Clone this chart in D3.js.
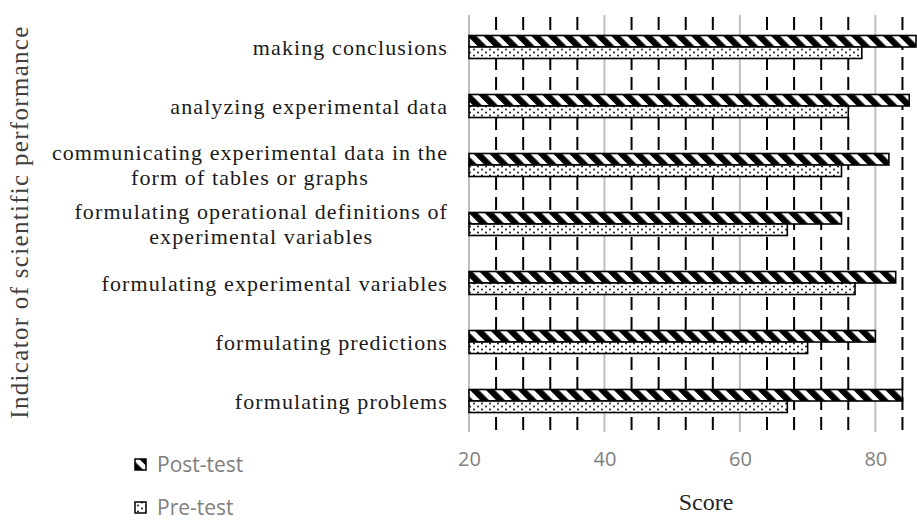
<!DOCTYPE html>
<html>
<head>
<meta charset="utf-8">
<title>Scientific performance</title>
<script src="https://cdn.jsdelivr.net/npm/d3@7/dist/d3.min.js"></script>
<style>
  body { margin: 0; background: #fff; }
  .cat { font-family: "Liberation Serif", "Times New Roman", serif; font-size: 22px; letter-spacing: 1.1px; fill: #1a1a1a; }
  .tick text { font-family: "Open Sans", sans-serif; font-size: 20px; fill: #808080; }
  .legend text { font-family: "Open Sans", sans-serif; font-size: 21px; fill: #808080; }
</style>
</head>
<body>
<svg id="chart" width="917" height="521"></svg>
<script>
// categories top -> bottom, label lines
var categories = [
  ["making conclusions"],
  ["analyzing experimental data"],
  ["communicating experimental data in the", "form of tables or graphs"],
  ["formulating operational definitions of", "experimental variables"],
  ["formulating experimental variables"],
  ["formulating predictions"],
  ["formulating problems"]
];
var postTest = [86, 85, 82, 75, 83, 80, 84];
var preTest  = [78, 76, 75, 67, 77, 70, 67];
var seriesNames = ["Post-test", "Pre-test"];
var majorTicks = [20, 40, 60, 80];
var minorTicks = [24, 28, 32, 36, 44, 48, 52, 56, 64, 68, 72, 76, 84];

var svg = d3.select("#chart");

var x = d3.scaleLinear().domain([20, 86]).range([469, 916]);
var y = d3.scaleBand()
    .domain(d3.range(categories.length))
    .range([17.5, 430.5])
    .paddingInner(0.61)
    .paddingOuter(0.305);
var ySub = d3.scaleBand().domain([0, 1]).range([0, y.bandwidth()]);

// patterns
var defs = svg.append("defs");
var stripe = defs.append("pattern")
    .attr("id", "stripes")
    .attr("patternUnits", "userSpaceOnUse")
    .attr("width", 11.3).attr("height", 11.3)
    .attr("patternTransform", "rotate(-45)");
stripe.append("rect").attr("width", 11.3).attr("height", 11.3).attr("fill", "#fff");
stripe.append("rect").attr("width", 6.3).attr("height", 11.3).attr("fill", "#000");

var dots = defs.append("pattern")
    .attr("id", "dots")
    .attr("patternUnits", "userSpaceOnUse")
    .attr("width", 8).attr("height", 6);
dots.append("rect").attr("width", 8).attr("height", 6).attr("fill", "#fff");
dots.append("circle").attr("cx", 2).attr("cy", 1.5).attr("r", 0.9).attr("fill", "#000");
dots.append("circle").attr("cx", 6).attr("cy", 4.5).attr("r", 0.9).attr("fill", "#000");

var fills = ["url(#stripes)", "url(#dots)"];

// gridlines
svg.append("g").selectAll("line")
    .data(majorTicks).enter().append("line")
    .attr("x1", function(d) { return x(d); })
    .attr("x2", function(d) { return x(d); })
    .attr("y1", 15).attr("y2", 432)
    .attr("stroke", "#bfbfbf").attr("stroke-width", 2);

svg.append("g").selectAll("line")
    .data(minorTicks).enter().append("line")
    .attr("x1", function(d) { return x(d); })
    .attr("x2", function(d) { return x(d); })
    .attr("y1", 17).attr("y2", 432)
    .attr("stroke", "#000").attr("stroke-width", 2)
    .attr("stroke-dasharray", "13,7");

// bars
var series = [postTest, preTest];
series.forEach(function(vals, s) {
  svg.append("g").selectAll("rect")
      .data(vals).enter().append("rect")
      .attr("x", x(20))
      .attr("y", function(d, i) { return y(i) + ySub(s); })
      .attr("width", function(d) { return x(d) - x(20); })
      .attr("height", ySub.bandwidth())
      .attr("fill", fills[s])
      .attr("stroke", "#000")
      .attr("stroke-width", 1.6);
});

// category labels
var labelX = 448;
categories.forEach(function(lines, i) {
  var cy = y(i) + y.bandwidth() / 2;
  if (lines.length === 1) {
    svg.append("text").attr("class", "cat")
        .attr("x", labelX).attr("y", cy).attr("dy", "0.35em")
        .attr("text-anchor", "end").text(lines[0]);
  } else {
    var first = svg.append("text").attr("class", "cat")
        .attr("x", labelX).attr("y", cy - 12.5).attr("dy", "0.35em")
        .attr("text-anchor", "end").text(lines[0]);
    var w = first.node().getComputedTextLength();
    svg.append("text").attr("class", "cat")
        .attr("x", labelX - w / 2).attr("y", cy + 12.5).attr("dy", "0.35em")
        .attr("text-anchor", "middle").text(lines[1]);
  }
});

// x axis labels
svg.append("g")
    .attr("transform", "translate(0,452)")
    .call(d3.axisBottom(x).tickValues(majorTicks).tickSize(0).tickPadding(0))
    .call(function(g) { g.select(".domain").remove(); });

svg.append("text")
    .attr("x", 706).attr("y", 510)
    .attr("text-anchor", "middle")
    .style("font-family", "'Liberation Serif', serif")
    .style("font-size", "24px")
    .attr("fill", "#262626")
    .text("Score");

svg.append("text")
    .attr("transform", "translate(28,222) rotate(-90)")
    .attr("text-anchor", "middle")
    .style("font-family", "'Liberation Serif', serif")
    .style("font-size", "25px")
    .style("letter-spacing", "1.3px")
    .attr("fill", "#404040")
    .text("Indicator of scientific performance");

// legend
var legend = svg.append("g").attr("class", "legend");
seriesNames.forEach(function(name, s) {
  var ly = 472 + s * 43;
  legend.append("rect")
      .attr("x", 135).attr("y", ly - 13)
      .attr("width", 11).attr("height", 11)
      .attr("fill", fills[s]).attr("stroke", "#000").attr("stroke-width", 1.5);
  legend.append("text").attr("x", 157).attr("y", ly).text(name);
});
</script>
</body>
</html>
